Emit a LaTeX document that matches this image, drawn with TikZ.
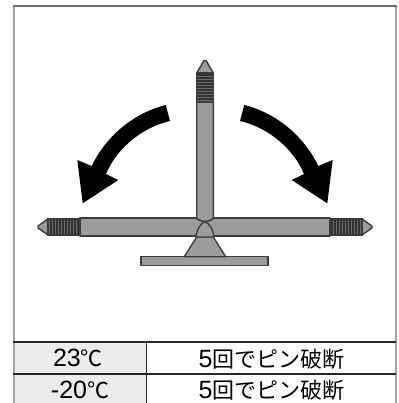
\documentclass[tikz,border=0pt]{standalone}
\usepackage{fontspec}
\setmainfont{Noto Sans CJK JP}
\newfontfamily\digitfont{Liberation Sans}
\definecolor{pinfill}{HTML}{9C9C9C}
\definecolor{pinline}{HTML}{3C3C3C}
\definecolor{threadfill}{HTML}{6A6A6A}
\definecolor{cellfill}{HTML}{ECECEC}
\definecolor{sidegray}{HTML}{A4A4A4}
\definecolor{topgray}{HTML}{6E6E6E}
\newcommand{\bigdigits}[1]{{\digitfont\fontsize{25pt}{25pt}\selectfont #1}}
\tikzset{
    pinpart/.style={draw=pinline, fill=pinfill, line width=1.4pt, line join=round},
    threadpart/.style={draw=pinline, fill=threadfill, line width=1.4pt},
    threadline/.style={draw=black!80, line width=1.7pt},
    rowrule/.style={draw=black!85, line width=1.2pt},
    celltext/.style={font=\fontsize{22pt}{22pt}\selectfont, inner sep=0pt, anchor=base}
}
\begin{document}
\begin{tikzpicture}[x=1pt, y=-1pt]
    \useasboundingbox (0, 0) rectangle (398, 403);

    % Frame points
    \coordinate (TL) at (14, 5.7);
    \coordinate (TR) at (396, 5.7);
    \coordinate (BL) at (14, 403);
    \coordinate (BR) at (396, 403);

    % Table cells
    \fill[cellfill] (14, 342) rectangle (146, 403);

    % Frame
    \draw[sidegray, line width=2.6pt] (TL) -- (BL);
    \draw[sidegray, line width=2.6pt] (TR) -- (BR);
    \draw[topgray, line width=1.8pt] ([xshift=-1.3pt]TL) -- ([xshift=1.3pt]TR);

    % Table rules
    \draw[rowrule] (12.7, 342) -- (396, 342);
    \draw[rowrule] (12.7, 374) -- (396, 374);
    \draw[draw=black!85, line width=1pt] (146, 342) -- (146, 403);

    % Table text
    \node[celltext] (warm) at (78, 366) {\bigdigits{23}℃};
    \node[celltext] (cold) at (80, 398) {\bigdigits{-20}℃};
    \node[celltext] (warmres) at (271.5, 367) {\bigdigits{5}回でピン破断};
    \node[celltext] (coldres) at (271.5, 398) {\bigdigits{5}回でピン破断};

    % Base plate and weld
    \draw[pinpart] (141, 256.7) rectangle (268, 265.7);
    \draw[pinpart] (196.7, 237) -- (184.3, 256.7) -- (225.7, 256.7) -- (213.3, 237) -- cycle;

    % Side pins and black arrows
    \foreach \s in {-1, 1} {
        \begin{scope}[shift={(205, 0)}, xscale=\s]
            % shaft
            \draw[pinpart] (0, 218) -- (125, 218) -- (125, 236) -- (0, 236) -- cycle;
            % tip
            \draw[pinpart] (157, 219) -- (167, 226) -- (167, 228) -- (157, 235) -- cycle;
            % thread
            \draw[threadpart] (125, 219) rectangle (157, 235);
            \foreach \t in {127, 130, ..., 156} {
                \draw[threadline] (\t, 219) -- (\t, 235);
            }
            % arrow
            \fill[black] (39.3, 105) .. controls (75, 114) and (101, 140) .. (113.3, 166)
                -- (127.7, 160) -- (122.3, 203.3) -- (86.7, 180) -- (99, 174)
                .. controls (89, 150) and (65, 128) .. (35, 121) -- cycle;
        \end{scope}
    }

    % Upright pin
    \draw[pinpart] (196.7, 102) -- (196.7, 218) .. controls (197, 220) and (202, 221) .. (205, 221.7)
        .. controls (208, 221) and (213, 220) .. (213.3, 218) -- (213.3, 102) -- cycle;
    \draw[pinpart] (196.7, 73) -- (204, 60.5) -- (206, 60.5) -- (213.3, 73) -- cycle;
    \draw[threadpart] (196.7, 73) rectangle (213.3, 102);
    \foreach \t in {75, 78, ..., 101} {
        \draw[threadline] (196.7, \t) -- (213.3, \t);
    }

    % Weld dome
    \fill[pinfill] (196.7, 222) -- (213.3, 222) -- (214, 237) -- (196, 237) -- cycle;
    \draw[pinpart] (196, 237) .. controls (197, 229) and (200, 224) .. (205, 221.7)
        .. controls (210, 224) and (213, 229) .. (214, 237) -- cycle;
    \draw[pinline, line width=1.4pt] (196.7, 218) .. controls (197, 220) and (202, 221) .. (205, 221.7)
        .. controls (208, 221) and (213, 220) .. (213.3, 218);
\end{tikzpicture}
\end{document}
